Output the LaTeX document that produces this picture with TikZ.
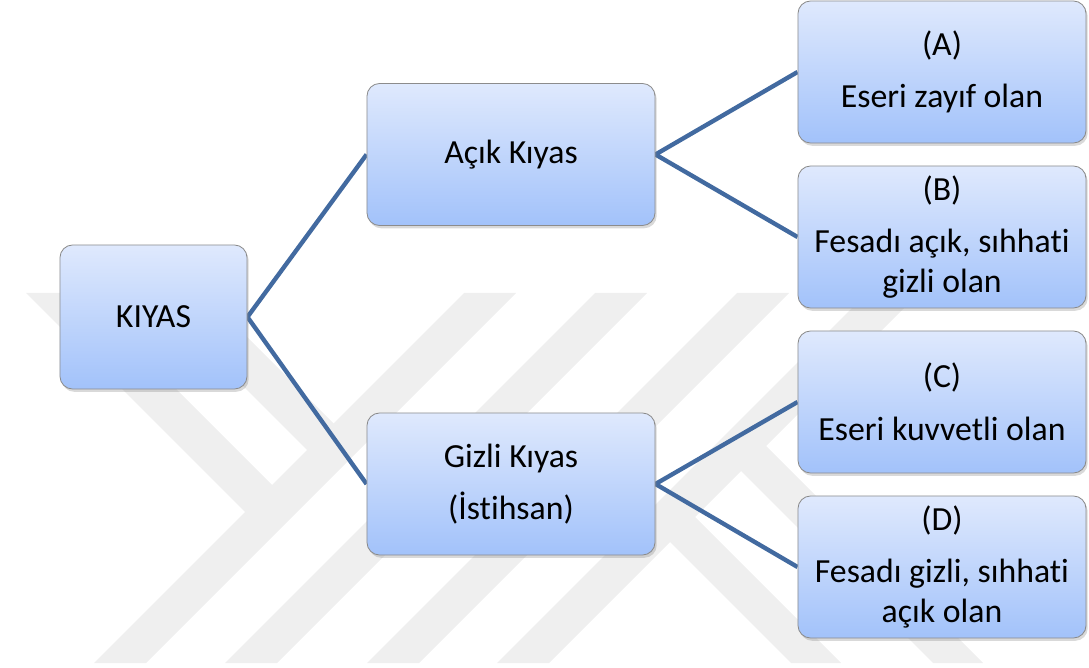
\documentclass[tikz,border=0pt]{standalone}
\usepackage{fontspec}
\setmainfont{Carlito}[Ligatures=NoCommon]
\usetikzlibrary{shadows,backgrounds}

\definecolor{boxtop}{RGB}{223,233,253}
\definecolor{boxbottom}{RGB}{162,194,250}
\definecolor{linkblue}{RGB}{66,106,160}
\definecolor{markgray}{RGB}{239,239,239}

\begin{document}
\begin{tikzpicture}[x=0.025cm,y=-0.025cm,
    box/.style={draw=black!45, line width=0.6pt, rounded corners=9pt,
        top color=boxtop, bottom color=boxbottom,
        drop shadow={opacity=0.3, shadow xshift=1.2pt, shadow yshift=-2pt},
        minimum width=7.2cm, minimum height=3.55cm, inner sep=0pt,
        align=center, font=\fontsize{24}{28.5}\selectfont},
    link/.style={draw=linkblue, line width=3.1pt},
    wmark/.style={fill=markgray}]
    \useasboundingbox (0,0) rectangle (1089,668);

    % Boxes
    \node[box, minimum width=4.675cm, minimum height=3.6cm] (kiyas) at (153.5,317) {KIYAS};
    \node[box] (acik) at (511,154.5) {Açık Kıyas};
    \node[box] (gizli) at (511,484) {Gizli Kıyas\\[9pt](İstihsan)};
    \node[box] (a) at (942,72) {(A)\\[9pt]Eseri zayıf olan};
    \node[box] (b) at (942,237) {(B)\\[9pt]Fesadı açık, sıhhati\\gizli olan};
    \node[box] (c) at (942,402) {(C)\\[9pt]Eseri kuvvetli olan};
    \node[box] (d) at (942,567) {(D)\\[9pt]Fesadı gizli, sıhhati\\açık olan};

    \begin{scope}[on background layer]
        % Watermark
        \foreach \a in {757,888,1030,1160}
            \fill[wmark] ({\a-293},293) -- ({\a+52-293},293) -- ({\a+52-663},663) -- ({\a-663},663) -- cycle;
        \fill[wmark] (26,293) -- (80,293) -- (278,491) -- (251,518) -- cycle;
        \fill[wmark] (150,293) -- (203,293) -- (339,429) -- (313,456) -- cycle;
        \fill[wmark] (660,532) -- (685,507) -- (841,663) -- (791,663) -- cycle;
        \fill[wmark] (731,461) -- (756,436) -- (983,663) -- (933,663) -- cycle;

        % Links
        \draw[link] (acik.west) -- (kiyas.east) -- (gizli.west);
        \draw[link] (a.west) -- (acik.east) -- (b.west);
        \draw[link] (c.west) -- (gizli.east) -- (d.west);
    \end{scope}
\end{tikzpicture}
\end{document}
